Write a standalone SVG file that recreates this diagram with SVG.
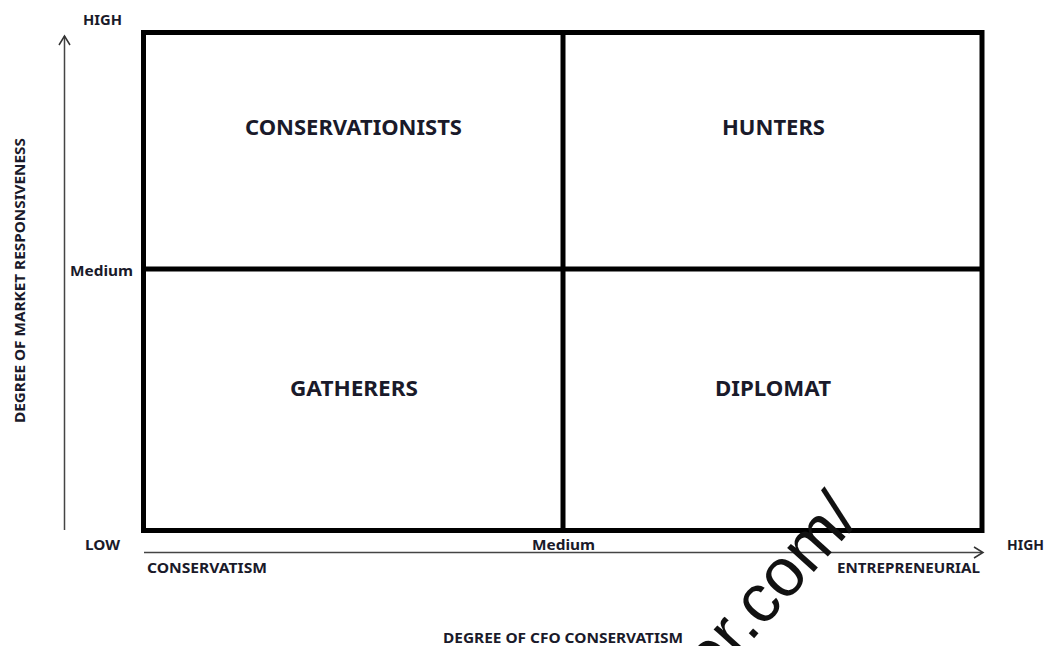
<svg xmlns="http://www.w3.org/2000/svg" width="1046" height="646" viewBox="0 0 1046 646">
<style>
.lbl{font-family:"Noto Sans","Liberation Sans",sans-serif;font-weight:bold;fill:#1a1a2a;font-size:15px}
.quad{font-family:"Noto Sans","Liberation Sans",sans-serif;font-weight:bold;fill:#1a1a2a;font-size:21px;text-anchor:middle}
.grid{fill:none;stroke:#000;stroke-width:5}
.axis{fill:none;stroke:#444;stroke-width:1.5}
.head{fill:none;stroke:#333;stroke-width:1.5}
</style>
<rect width="1046" height="646" fill="#fff"/>
<g id="grid">
<rect class="grid" x="143.5" y="32.5" width="838.5" height="498"/>
<line class="grid" x1="563" y1="32.5" x2="563" y2="530.5"/>
<line class="grid" x1="143.5" y1="269" x2="982" y2="269"/>
</g>
<g id="connectors">
<line class="axis" x1="64.5" y1="36" x2="64.5" y2="530"/>
<polyline class="head" points="59,45 64.5,36 70,45"/>
<line class="axis" x1="144" y1="552.5" x2="982" y2="552.5"/>
<polyline class="head" points="974,547 983,552.5 974,558"/>
</g>
<g id="q-conservationists"><text class="quad" x="353.5" y="135" textLength="217" lengthAdjust="spacingAndGlyphs">CONSERVATIONISTS</text></g>
<g id="q-hunters"><text class="quad" x="773.5" y="135" textLength="103" lengthAdjust="spacingAndGlyphs">HUNTERS</text></g>
<g id="q-gatherers"><text class="quad" x="354" y="396" textLength="128" lengthAdjust="spacingAndGlyphs">GATHERERS</text></g>
<g id="q-diplomat"><text class="quad" x="773" y="396" textLength="116" lengthAdjust="spacingAndGlyphs">DIPLOMAT</text></g>
<g id="labels">
<text class="lbl" x="83" y="25" textLength="39" lengthAdjust="spacingAndGlyphs">HIGH</text>
<text class="lbl" x="70" y="276" textLength="63" lengthAdjust="spacingAndGlyphs">Medium</text>
<text class="lbl" transform="translate(25,280.5) rotate(-90)" text-anchor="middle" textLength="285" lengthAdjust="spacingAndGlyphs">DEGREE OF MARKET RESPONSIVENESS</text>
<text class="lbl" x="85" y="550" textLength="35" lengthAdjust="spacingAndGlyphs">LOW</text>
<text class="lbl" x="532" y="550" textLength="63" lengthAdjust="spacingAndGlyphs">Medium</text>
<text class="lbl" x="1007" y="550" textLength="37" lengthAdjust="spacingAndGlyphs">HIGH</text>
<text class="lbl" x="147" y="573" textLength="120" lengthAdjust="spacingAndGlyphs">CONSERVATISM</text>
<text class="lbl" x="837" y="573" textLength="143" lengthAdjust="spacingAndGlyphs">ENTREPRENEURIAL</text>
<text class="lbl" x="443" y="643" textLength="240" lengthAdjust="spacingAndGlyphs">DEGREE OF CFO CONSERVATISM</text>
</g>
<g id="watermark">
<text transform="translate(712,685) rotate(-48)" font-family="Liberation Sans, Arial, sans-serif" font-size="68" fill="#111">er.com/</text>
</g>
</svg>
